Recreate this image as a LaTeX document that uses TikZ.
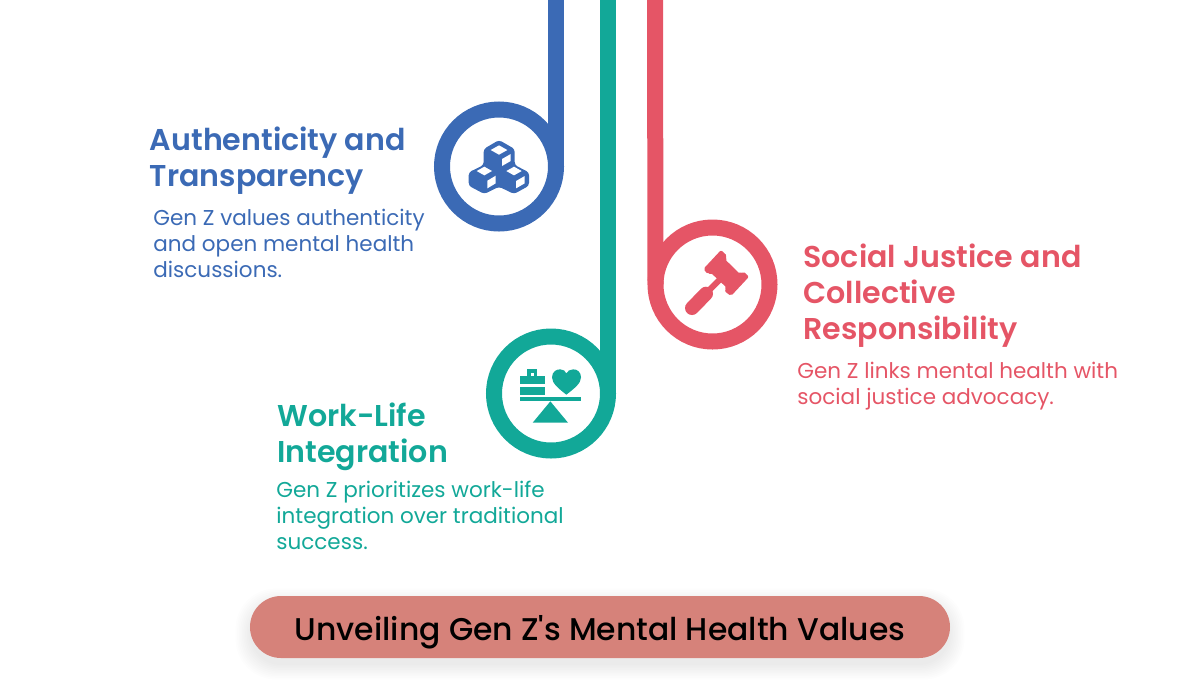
\documentclass[tikz,border=0pt]{standalone}
\usepackage{fontspec}
\setmainfont{Poppins}
\newfontfamily\semi{Poppins SemiBold}
\newfontfamily\medi{Poppins Medium}
\definecolor{cblue}{HTML}{3B6AB5}
\definecolor{cteal}{HTML}{12A898}
\definecolor{cred}{HTML}{E55566}
\definecolor{cpill}{HTML}{D6827A}
\tikzset{
  ring/.style={circle,draw=#1,line width=8pt,minimum size=57pt,inner sep=0pt,outer sep=0pt},
  stem/.style={draw=#1,line width=8pt},
  heading/.style={text=#1,anchor=north west,align=left,inner sep=0pt,font=\fontsize{15.05}{18}\semi},
  bodytext/.style={text=#1,anchor=north west,align=left,inner sep=0pt,font=\fontsize{10.75}{13}\selectfont},
  pill/.style={fill=cpill,rounded corners=15.5pt,minimum width=350pt,minimum height=31pt,inner sep=0pt,text height=16pt,text depth=3pt,font=\fontsize{15.7}{20}\medi,text=black}
}
\begin{document}
\begin{tikzpicture}[x=0.5pt,y=-0.5pt]
\useasboundingbox (0,0) rectangle (1200,682);
% rings and stems
\node[ring=cblue] (ringa) at (499,166.5) {};
\coordinate (topa) at (556,0);
\draw[stem=cblue] (topa) -- (ringa.east);
\node[ring=cteal] (ringb) at (551,393.5) {};
\coordinate (topb) at (608,0);
\draw[stem=cteal] (topb) -- (ringb.east);
\node[ring=cred] (ringc) at (712.5,284.5) {};
\coordinate (topc) at (655,0);
\draw[stem=cred] (topc) -- (ringc.west);
% cube icon
\begin{scope}[shift={(430,90)},x=0.1667pt,y=-0.1667pt]
\fill[cblue,rounded corners=1.5pt] (207,150)--(254,177)--(254,225)--(297,247)--(297,287)--(252,312)--(207,290)--(163,312)--(116,287)--(116,247)--(161,225)--(161,177)--cycle;
\fill[white] (207,166)--(232,180)--(207,194)--(182,180)--cycle;
\fill[white] (216,207)--(242,192)--(242,213)--(216,228)--cycle;
\fill[white] (163,230)--(186,243)--(163,256)--(140,243)--cycle;
\fill[white] (172,272)--(197,257)--(197,280)--(172,295)--cycle;
\fill[white] (252,230)--(275,243)--(252,256)--(229,243)--cycle;
\fill[white] (258,273)--(284,258)--(284,280)--(258,295)--cycle;
\end{scope}
% balance icon
\begin{scope}[shift={(480,320)},x=0.1667pt,y=-0.1667pt]
\fill[cteal] (119,232) rectangle (303,244);
\fill[cteal] (211,244)--(264,308)--(158,308)--cycle;
\fill[cteal] (119,168) rectangle (196,192);
\fill[cteal] (119,200) rectangle (196,225);
\fill[cteal] (140,147) rectangle (172,168);
\fill[white] (152,158) rectangle (162,168);
\fill[cteal] (259,224) .. controls (235,205) and (216,190) .. (216,172) .. controls (216,155) and (230,147) .. (241,148) .. controls (250,148) and (256,153) .. (259,160) .. controls (263,153) and (269,148) .. (279,148) .. controls (291,147) and (303,156) .. (303,172) .. controls (303,190) and (283,205) .. (259,224) -- cycle;
\end{scope}
% gavel icon
\begin{scope}[shift={(640,210)},x=0.1667pt,y=-0.1667pt]
\fill[cred,rounded corners=1pt] (243,120)--(262,138)--(255,148)--(300,192)--(310,184)--(327,200)--(273,258)--(253,243)--(260,233)--(212,188)--(204,193)--(190,177)--cycle;
\draw[cred,line width=3pt] (240,208)--(200,248);
\draw[cred,line width=7pt,line cap=round] (198,251)--(156,294);
\end{scope}
% texts
\node[heading=cblue] (heada) at (149.5,126.5) {Authenticity and\\Transparency};
\node[bodytext=cblue] (bodya) at (153,209) {Gen Z values authenticity\\and open mental health\\discussions.};
\node[heading=cteal] (headb) at (277,402.5) {Work-Life\\Integration};
\node[bodytext=cteal] (bodyb) at (276,481) {Gen Z prioritizes work-life\\integration over traditional\\success.};
\node[heading=cred] (headc) at (803,243) {Social Justice and\\Collective\\Responsibility};
\node[bodytext=cred] (bodyc) at (797,362) {Gen Z links mental health with\\social justice advocacy.};
% pill shadow
\foreach \g in {0,1,...,9}{
  \fill[black,opacity=0.009,rounded corners=15.5pt+\g*0.5pt]
    (250-\g*1.6,603-\g*1.6) rectangle (950+\g*1.6,665+\g*1.6);
}
\node[pill] (title) at (600,627) {Unveiling Gen Z's Mental Health Values};
\end{tikzpicture}
\end{document}
